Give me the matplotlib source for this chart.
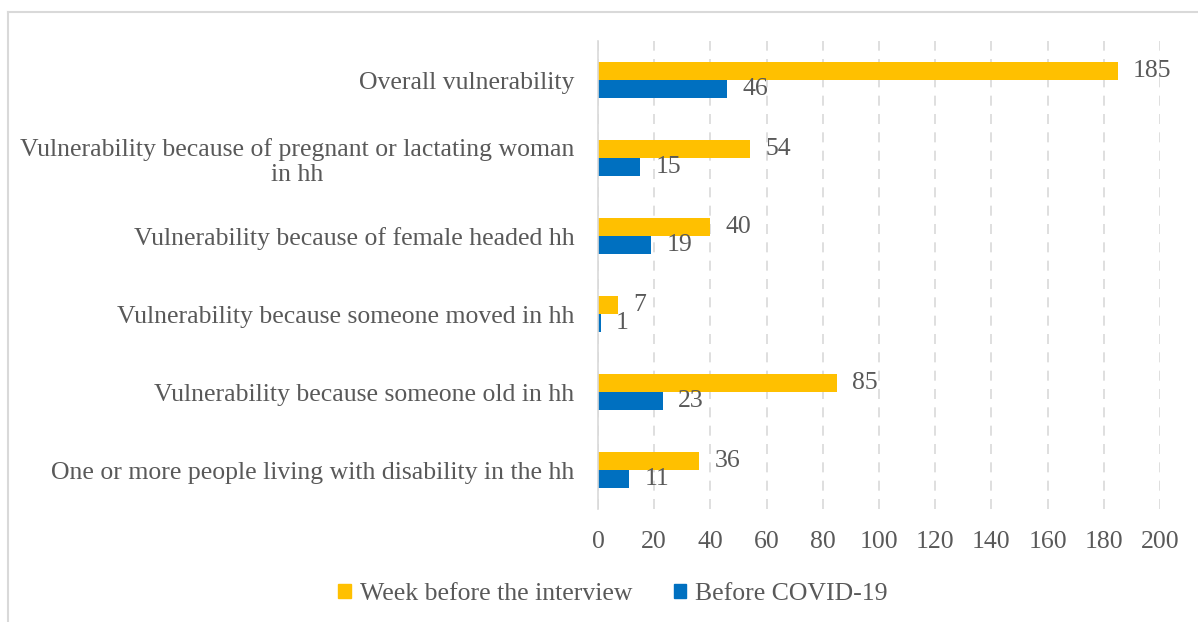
import matplotlib
matplotlib.use("Agg")
import matplotlib.pyplot as plt
from matplotlib.patches import Patch
from matplotlib.lines import Line2D
import numpy as np

categories = [
    "Overall vulnerability",
    "Vulnerability because of pregnant or lactating woman\nin hh",
    "Vulnerability because of female headed hh",
    "Vulnerability because someone moved in hh",
    "Vulnerability because someone old in hh",
    "One or more people living with disability in the hh",
]
week_before = [185, 54, 40, 7, 85, 36]
before_covid = [46, 15, 19, 1, 23, 11]
series_names = ["Week before the interview", "Before COVID-19"]
xticks = [0, 20, 40, 60, 80, 100, 120, 140, 160, 180, 200]

YELLOW = "#FFC000"
BLUE = "#0070C0"
TEXT = "#595959"
GRID = "#D9D9D9"
FONT = "Liberation Serif"
FS = 18.5

plt.rcParams['font.family'] = [FONT, 'DejaVu Serif']

fig = plt.figure(figsize=(11.98, 6.22), dpi=100)
ax = fig.add_axes([598/1198, 1-509/622, (1160-598)/1198, (509-41)/622])

n = len(categories)
pos = np.arange(n)[::-1].astype(float)
h = 0.235
b1 = ax.barh(pos + h/2, week_before, height=h, color=YELLOW, label=series_names[0])
b2 = ax.barh(pos - h/2, before_covid, height=h, color=BLUE, label=series_names[1])

for bars, vals in ((b1, week_before), (b2, before_covid)):
    for r, v in zip(bars, vals):
        ax.annotate(str(v), (r.get_width(), r.get_y() + r.get_height()/2),
                    xytext=(11, 0), textcoords="offset points",
                    va="center", ha="left", fontsize=FS, color=TEXT)

ax.set_xlim(0, 200)
ax.set_ylim(-0.5, n - 0.5)
ax.set_xticks(xticks)
ax.set_xticklabels([str(t) for t in xticks])
ax.set_yticks(pos)
ax.set_yticklabels(categories, ha="right", multialignment="center")
ax.tick_params(axis="both", length=0, labelsize=FS, labelcolor=TEXT)
ax.tick_params(axis="x", pad=16)
ax.tick_params(axis="y", pad=17)

for s in ["top", "right", "bottom"]:
    ax.spines[s].set_visible(False)
ax.spines["left"].set_color(GRID)
ax.spines["left"].set_linewidth(1.2)

ax.xaxis.grid(True, color=GRID, linestyle=(0, (6, 5)), linewidth=1.2)
ax.set_axisbelow(True)

handles = [Patch(color=YELLOW), Patch(color=BLUE)]
fig.legend(handles, series_names, loc="center", bbox_to_anchor=(613/1198, 1-594/622),
           ncol=2, frameon=False, fontsize=FS, labelcolor=TEXT,
           handlelength=0.5, handleheight=0.5, handletextpad=0.35, columnspacing=1.6)

# outer chart frame (top and left edges visible)
fig.add_artist(Line2D([8/1198, 1.0], [1-12/622, 1-12/622], color=GRID, linewidth=1.5,
                      transform=fig.transFigure))
fig.add_artist(Line2D([8/1198, 8/1198], [0, 1-12/622], color=GRID, linewidth=1.5,
                      transform=fig.transFigure))

fig.savefig("out.png", dpi=100, facecolor="white")
